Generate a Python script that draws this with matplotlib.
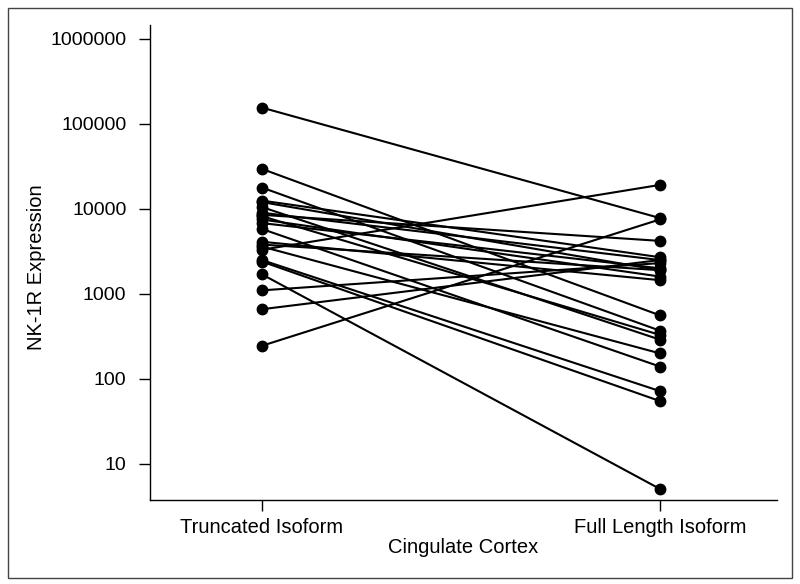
import matplotlib
matplotlib.use("Agg")
import matplotlib.pyplot as plt
from matplotlib.patches import Rectangle
from matplotlib.ticker import FixedLocator, NullLocator

plt.rcParams['font.family'] = ['Liberation Sans', 'DejaVu Sans']

categories = ["Truncated Isoform", "Full Length Isoform"]
truncated = [155000, 29500, 17800, 12500, 12000, 10500, 9000, 8500, 8200, 7500,
             6800, 5800, 4100, 3800, 3600, 3300, 2500, 2400, 1700, 1100, 660, 245]
full_length = [7800, 560, 370, 2700, 1900, 290, 2500, 4200, 330, 1600,
               2000, 140, 1450, 1900, 200, 19100, 72, 55, 5.1, 2300, 2500, 7500]
y_ticks = [10, 100, 1000, 10000, 100000, 1000000]

fig = plt.figure(figsize=(8, 5.84), dpi=100)
ax = fig.add_axes([0.1875, 0.1438, 0.971 - 0.1875, 0.9572 - 0.1438])

for a, b in zip(truncated, full_length):
    ax.plot([0, 1], [a, b], color='black', lw=1.5, marker='o', markersize=7.5,
            markerfacecolor='black', markeredgecolor='black', solid_capstyle='round')

ax.set_yscale('log')
ax.set_ylim(3.77, 1.45e6)
ax.set_xlim(-0.281, 1.294)
ax.yaxis.set_major_locator(FixedLocator(y_ticks))
ax.yaxis.set_minor_locator(NullLocator())
ax.set_yticklabels([str(v) for v in y_ticks])
ax.set_xticks([0, 1])
ax.set_xticklabels(categories)

for s in ['top', 'right']:
    ax.spines[s].set_visible(False)
for s in ['left', 'bottom']:
    ax.spines[s].set_linewidth(1.0)

ax.tick_params(axis='y', which='major', length=8, width=1.0, labelsize=14, pad=9)
ax.tick_params(axis='x', which='major', length=8, width=1.0, labelsize=14.5, pad=5)
ax.set_xlabel("Cingulate Cortex", fontsize=14.5, labelpad=1)
ax.set_ylabel("NK-1R Expression", fontsize=14.5)
ax.yaxis.set_label_coords(-0.166, 0.49)

fig.patches.append(Rectangle((8/800, 1 - 578/584), 784/800, 570/584,
                             transform=fig.transFigure, fill=False,
                             edgecolor='#444444', lw=1.0))

fig.savefig("out.png", dpi=100)
